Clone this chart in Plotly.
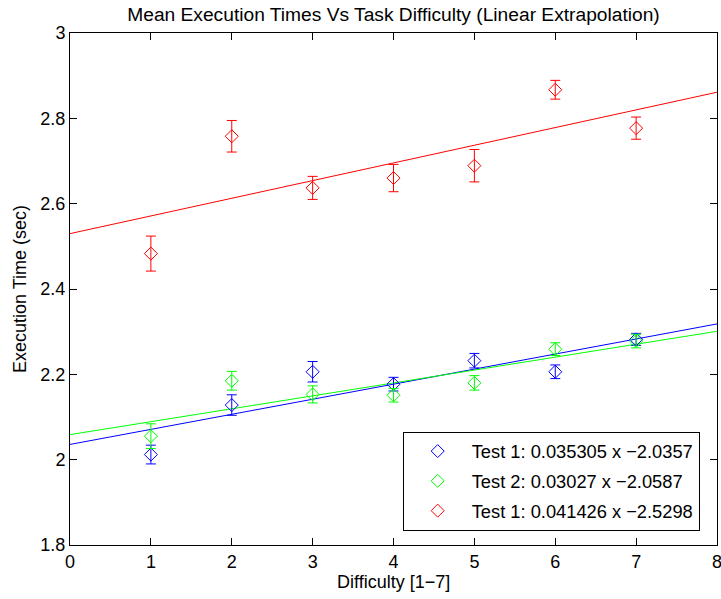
import plotly.graph_objects as go

difficulty = [1, 2, 3, 4, 5, 6, 7]

test1_mean = [2.012, 2.128, 2.206, 2.177, 2.232, 2.206, 2.282]
test1_err = [0.022, 0.024, 0.024, 0.016, 0.017, 0.016, 0.014]

test2_mean = [2.055, 2.185, 2.153, 2.151, 2.180, 2.259, 2.278]
test2_err = [0.029, 0.022, 0.020, 0.016, 0.017, 0.015, 0.016]

test3_mean = [2.483, 2.758, 2.637, 2.660, 2.689, 2.867, 2.777]
test3_err = [0.041, 0.037, 0.027, 0.032, 0.038, 0.022, 0.026]

slopes = [0.035305, 0.03027, 0.041426]
intercepts = [2.0357, 2.0587, 2.5298]
legend_labels = ["Test 1: 0.035305 x \u22122.0357",
                 "Test 2: 0.03027 x \u22122.0587",
                 "Test 1: 0.041426 x \u22122.5298"]
colors = ["#0000ff", "#00ff00", "#ff0000"]
x_fit = [0, 8]

means = [test1_mean, test2_mean, test3_mean]
errs = [test1_err, test2_err, test3_err]

FONT = "Liberation Sans, Arial, Helvetica, sans-serif"

fig = go.Figure()

for i in range(3):
    fig.add_trace(go.Scatter(
        x=x_fit, y=[intercepts[i] + slopes[i] * xv for xv in x_fit],
        mode="lines", line=dict(color=colors[i], width=1),
        showlegend=False, hoverinfo="skip"))

for i in range(3):
    fig.add_trace(go.Scatter(
        x=difficulty, y=means[i], mode="markers",
        name=legend_labels[i], legendgroup=f"g{i}",
        marker=dict(symbol="diamond-open", size=10, color=colors[i],
                    line=dict(width=1, color=colors[i])),
        error_y=dict(type="data", array=errs[i], visible=True,
                     color=colors[i], thickness=1, width=5)))

fig.update_layout(
    width=721, height=599,
    margin=dict(l=70, r=4, t=33, b=54),
    paper_bgcolor="white", plot_bgcolor="white",
    font=dict(family=FONT, size=18, color="black"),
    title=dict(text="Mean Execution Times Vs Task Difficulty (Linear Extrapolation)",
               x=0.5, xref="paper", xanchor="center",
               y=1 - 14 / 599, yref="container", yanchor="middle",
               font=dict(size=19.2, color="black")),
    xaxis=dict(range=[0, 8], dtick=1, tick0=0, ticks="inside", ticklen=7,
               tickcolor="black", showline=True, linecolor="black", linewidth=1,
               mirror="ticks", showgrid=False, zeroline=False,
               ticklabeloverflow="allow", automargin=False),
    yaxis=dict(range=[1.8, 3], dtick=0.2, tick0=1.8, ticks="inside", ticklen=7,
               tickcolor="black", showline=True, linecolor="black", linewidth=1,
               mirror="ticks", showgrid=False, zeroline=False, automargin=False),
    legend=dict(x=(402.7 - 70) / 647, y=(545 - 431.7) / 512,
                xanchor="left", yanchor="top",
                bordercolor="black", borderwidth=1, bgcolor="white",
                tracegroupgap=3, itemwidth=58, font=dict(size=18.3)),
    annotations=[
        dict(text="Difficulty [1\u22127]", xref="paper", yref="paper",
             x=0.5, y=(545 - 582) / 512, xanchor="center", yanchor="middle",
             showarrow=False, font=dict(size=18)),
        dict(text="Execution Time (sec)", xref="paper", yref="paper",
             x=(20 - 70) / 647, y=0.5, xanchor="center", yanchor="middle",
             textangle=-90, showarrow=False, font=dict(size=18)),
    ],
)

fig.write_html("out.html")
